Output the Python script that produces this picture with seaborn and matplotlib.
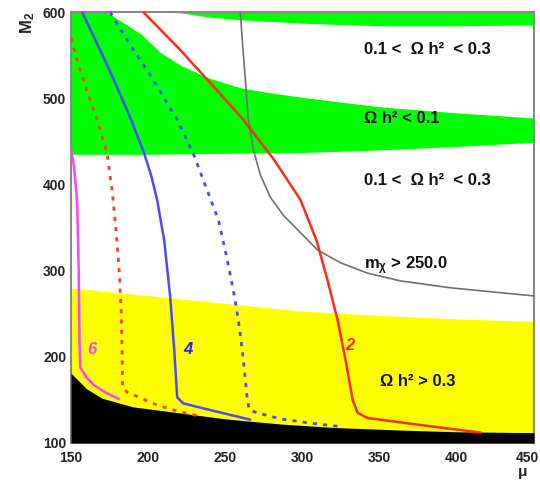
import matplotlib
matplotlib.use("Agg")
import matplotlib.pyplot as plt
import matplotlib.transforms as mtrans
import seaborn as sns
import numpy as np

# ---- region boundaries (mu, M2) ----
green_lo_x = [150, 200, 250, 300, 350, 400, 450]
green_lo_y = [435, 435, 436, 437, 440, 444, 449]

white_x = [173, 180, 195, 208, 221, 240, 260, 280, 300, 350, 400, 450]
white_lo = [600, 592, 575, 553, 538, 523, 512, 506, 501, 490, 483, 477]
white_hi = [600, 600, 600, 600, 599, 594, 591, 589, 587, 584, 584, 585]

yellow_x = [150, 200, 250, 300, 350, 400, 450]
yellow_top = [280, 271, 262, 253, 248, 244, 241]

black_x = [150, 160, 170, 190, 220, 250, 286, 320, 364, 400, 450]
black_top = [181, 163, 152, 142, 135, 128, 122, 118, 115, 113, 112]

# ---- contour lines ----
mag_x = [150, 152, 154, 154.5, 155, 155.5, 156, 160, 165, 172, 181]
mag_y = [442, 420, 380, 340, 300, 220, 188, 176, 167, 159, 151]

reddash_x = [150, 155.8, 162.3, 166.9, 170.8, 173.4, 176.6, 179.2, 181.2, 182.5, 183.1, 183.4, 186.4, 190.3, 205.8, 220.8, 233.8]
reddash_y = [570, 533, 498, 475, 452, 436, 393, 347, 301, 254, 208, 164, 159, 156, 144, 136, 131]

blue_x = [157.1, 163.0, 168.8, 174.8, 180.5, 189.0, 197.4, 202.0, 205.8, 210.4, 214.3, 216.9, 218.8, 222.7, 233.8, 250.0, 266.2]
blue_y = [600, 578, 556, 533, 510, 475, 436, 410, 382, 335, 269, 208, 153, 146, 141, 134, 127]

bluedash_x = [175.3, 188.3, 201.3, 211.0, 218.8, 229.2, 237.0, 245.5, 250.6, 255.2, 258.4, 261.0, 263.0, 264.3, 265.6, 272.7, 285.7, 305.2, 324.7]
bluedash_y = [600, 562, 527, 498, 475, 436, 399, 359, 318, 277, 243, 208, 173, 150, 138, 134, 128, 123, 119]

red_x = [196.8, 220.8, 241.6, 261.7, 281.8, 298.7, 309.1, 316.2, 322.7, 327.9, 332.5, 335.7, 342.2, 350.7, 376, 402.6, 415.6]
red_y = [600, 556, 515, 475, 428, 382, 335, 289, 243, 196, 150, 135, 129, 127, 121, 115, 112]

gray_x = [259.7, 261.0, 263.0, 264.9, 268.2, 272.7, 279.2, 287.7, 298.7, 309.7, 324.7, 342.2, 363.6, 396.1, 450.6]
gray_y = [600, 567, 521, 475, 440, 411, 385, 364, 344, 324, 309, 297, 288, 280, 270.5]

sns.set_style("white")
plt.rcParams["font.family"] = ["Liberation Sans", "DejaVu Sans"]
plt.rcParams["mathtext.fontset"] = "custom"
plt.rcParams["mathtext.rm"] = "Liberation Sans:bold"
plt.rcParams["mathtext.it"] = "Liberation Sans:bold"
plt.rcParams["mathtext.bf"] = "Liberation Sans:bold"

fig = plt.figure(figsize=(5.4, 4.8), dpi=100)
ax = fig.add_axes([71/540, 1-443/480, (534-71)/540, (443-12)/480])

ax.fill_between(green_lo_x, green_lo_y, 600, color="#00ff00", lw=0, zorder=1)
ax.fill_between(white_x, white_lo, white_hi, color="white", lw=0, zorder=2)
ax.fill_between(yellow_x, 100, yellow_top, color="#ffff00", lw=0, zorder=1)
ax.fill_between(black_x, 100, black_top, color="black", lw=0, zorder=3)

kw = dict(sort=False, estimator=None, ax=ax, legend=False)
sns.lineplot(x=gray_x, y=gray_y, color="#707070", lw=1.2, **kw)
sns.lineplot(x=mag_x, y=mag_y, color="#ff40ff", lw=1.8, **kw)
sns.lineplot(x=reddash_x, y=reddash_y, color="#ff3b2b", lw=2.0, linestyle=(0, (1.5, 2.2)), **kw)
sns.lineplot(x=blue_x, y=blue_y, color="#4a4aff", lw=1.8, **kw)
sns.lineplot(x=bluedash_x, y=bluedash_y, color="#4a4aff", lw=2.0, linestyle=(0, (1.5, 2.2)), **kw)
sns.lineplot(x=red_x, y=red_y, color="#ff2a1a", lw=1.8, **kw)
for l in ax.lines:
    l.set_zorder(4)
    l.set_solid_joinstyle("round")

tkw = dict(fontsize=12, fontweight="bold", color="#111111", zorder=5, va="center")
ax.text(340, 556, "0.1 <  Ω h²  < 0.3", **tkw)
ax.text(340, 477, "Ω h² < 0.1", **tkw)
ax.text(340, 405, "0.1 <  Ω h²  < 0.3", **tkw)
ax.text(340, 306, "m$_{\\chi}$ > 250.0", **tkw)
ax.text(350, 171, "Ω h² > 0.3", **tkw)

lkw = dict(fontsize=12, fontweight="bold", fontstyle="italic", ha="center", va="center", zorder=5)
ax.text(163.5, 209, "6", color="#ff40ff", **lkw)
ax.text(226, 209, "4", color="#2020ff", **lkw)
ax.text(331, 213, "2", color="#ff2a1a", **lkw)

ax.set_xlim(150, 450)
ax.set_ylim(100, 600)
ax.set_xticks([150, 200, 250, 300, 350, 400, 450])
ax.set_yticks([100, 200, 300, 400, 500, 600])
ax.set_xticks(np.arange(150, 451, 10), minor=True)
ax.set_yticks(np.arange(100, 601, 20), minor=True)
ax.tick_params(which="both", direction="in", color="#666666", labelsize=10, labelcolor="#222222")
ax.tick_params(which="major", length=6, width=1)
ax.tick_params(which="minor", length=3, width=0.8)
ax.tick_params(axis="x", pad=6)
fig.canvas.draw()
xl = ax.get_xticklabels()
for lab in xl + ax.get_yticklabels():
    lab.set_fontweight("bold")
xl[-1].set_transform(xl[-1].get_transform() + mtrans.ScaledTranslation(-7/100, 0, fig.dpi_scale_trans))
for s in ax.spines.values():
    s.set_color("#888888")
    s.set_linewidth(1.5)
    s.set_visible(True)

ax.set_xlabel("μ", fontsize=11, fontweight="bold", ha="center", va="top")
ax.xaxis.set_label_coords(0.975, -0.052)
ax.set_ylabel("M$_2$", loc="top", fontsize=12, fontweight="bold", labelpad=4)

fig.savefig("out.png", dpi=100)
